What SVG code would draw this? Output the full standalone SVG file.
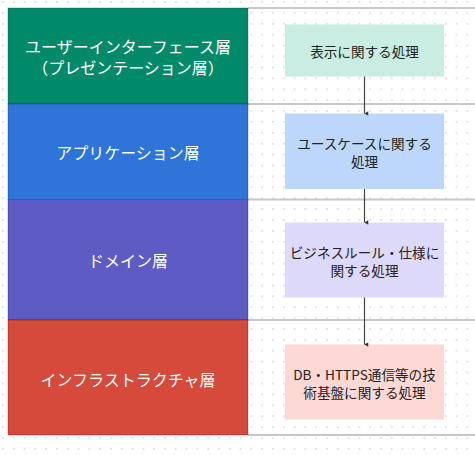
<svg xmlns="http://www.w3.org/2000/svg" width="475" height="455" viewBox="0 0 475 455">
<defs>
<pattern id="dots" x="2" y="1" width="10.8" height="10.9" patternUnits="userSpaceOnUse">
<rect x="0" y="0" width="2" height="2" fill="#e4e4e4"/>
</pattern>
<marker id="arr" viewBox="0 0 8 8" refX="4" refY="7" markerWidth="6" markerHeight="6" orient="auto-start-reverse" markerUnits="userSpaceOnUse">
<path d="M1,2 L4,7 L7,2 Z" fill="#333"/>
</marker>
<style>
.lane{stroke:rgba(0,0,0,0.25);stroke-width:1}
.lt{font-family:"Noto Sans CJK JP","Noto Sans",sans-serif;font-size:16px;fill:#fff;text-anchor:middle;dominant-baseline:central}
.nt{font-family:"Noto Sans CJK JP","Noto Sans",sans-serif;font-size:13.6px;fill:#222;text-anchor:middle;dominant-baseline:central}
.sep{stroke:#c8c8c8;stroke-width:2}
.edge{stroke:#444;stroke-width:1.2;fill:none;marker-end:url(#arr)}
</style>
</defs>
<rect width="475" height="455" fill="#fff"/>
<rect width="475" height="455" fill="url(#dots)"/>
<g id="grid">
<line class="sep" x1="248" y1="8" x2="475" y2="8"/>
<line class="sep" x1="248" y1="104" x2="475" y2="104"/>
<line class="sep" x1="248" y1="199.5" x2="475" y2="199.5"/>
<line class="sep" x1="248" y1="320" x2="475" y2="320"/>
<line class="sep" x1="248" y1="435" x2="475" y2="435"/>
</g>
<g id="lane-ui">
<rect class="lane" x="8" y="8" width="240" height="96" fill="#018a6a"/>
<text class="lt" x="128" y="46">ユーザーインターフェース層</text>
<text class="lt" x="128" y="67">（プレゼンテーション層）</text>
</g>
<g id="lane-app">
<rect class="lane" x="8" y="104" width="240" height="95.5" fill="#2f74d8"/>
<text class="lt" x="128" y="152">アプリケーション層</text>
</g>
<g id="lane-domain">
<rect class="lane" x="8" y="199.5" width="240" height="120.5" fill="#5f5bc4"/>
<text class="lt" x="128" y="260">ドメイン層</text>
</g>
<g id="lane-infra">
<rect class="lane" x="8" y="320" width="240" height="115" fill="#d64a3b"/>
<text class="lt" x="128" y="379">インフラストラクチャ層</text>
</g>
<g id="n1">
<rect x="285" y="24.5" width="159" height="52" fill="#c9ece3"/>
<text class="nt" x="364.5" y="51">表示に関する処理</text>
</g>
<g id="n2">
<rect x="285" y="113.5" width="159" height="75.5" fill="#bdd7fb"/>
<text class="nt" x="364.5" y="143">ユースケースに関する</text>
<text class="nt" x="364.5" y="161">処理</text>
</g>
<g id="n3">
<rect x="285" y="222.5" width="159" height="75" fill="#ddd9fb"/>
<text class="nt" x="364.5" y="252">ビジネスルール・仕様に</text>
<text class="nt" x="364.5" y="269.5">関する処理</text>
</g>
<g id="n4">
<rect x="285" y="344.5" width="159" height="75" fill="#fdd8d5"/>
<text class="nt" x="364.5" y="374">DB・HTTPS通信等の技</text>
<text class="nt" x="364.5" y="391.5">術基盤に関する処理</text>
</g>
<g id="connectors">
<line class="edge" x1="364.5" y1="76.5" x2="364.5" y2="113.5"/>
<line class="edge" x1="364.5" y1="189" x2="364.5" y2="222.5"/>
<line class="edge" x1="364.5" y1="297.5" x2="364.5" y2="344.5"/>
</g>
</svg>
